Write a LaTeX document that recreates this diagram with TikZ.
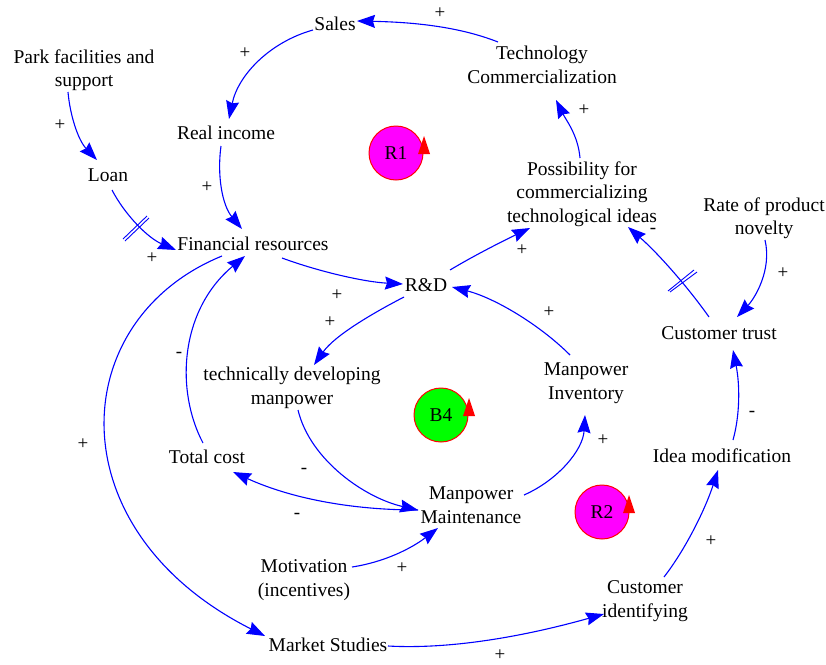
\documentclass[tikz,border=0pt]{standalone}
\usepackage{fontspec}
\setmainfont{Liberation Serif}
\usetikzlibrary{arrows.meta}
\definecolor{loopmag}{RGB}{255,0,255}
\tikzset{
  var/.style={inner sep=0pt,align=center,font=\fontsize{19.5}{23.5}\selectfont},
  sign/.style={inner sep=0pt,font=\fontsize{19}{20}\selectfont},
  link/.style={draw=blue,line width=1.1pt,-{Stealth[length=18pt,width=13pt,inset=2pt,fill=blue]}},
  delay/.style={draw=blue,line width=0.9pt},
  loopc/.style={circle,draw=red,line width=1pt,minimum size=54pt,inner sep=0pt,font=\fontsize{19.5}{20}\selectfont},
  looph/.style={fill=red,draw=none}
}
\newcommand{\at}[3]{([shift={(#2,#3)}]#1.center)}
\begin{document}
\begin{tikzpicture}[x=1pt,y=-1pt]
\useasboundingbox (0,0) rectangle (826,664);
% variables
\node[var] (sales) at (335,24) {Sales};
\node[var] (tech) at (542,65) {Technology\\Commercialization};
\node[var] (park) at (84,70) {Park facilities and\\support};
\node[var] (real) at (226,133) {Real income};
\node[var] (loan) at (108,175) {Loan};
\node[var] (fin) at (253,244) {Financial resources};
\node[var] (poss) at (582,194) {Possibility for\\commercializing\\technological ideas};
\node[var] (rate) at (764,218) {Rate of product\\novelty};
\node[var] (rd) at (426,285) {R\&D};
\node[var] (trust) at (719,333) {Customer trust};
\node[var] (dev) at (292,388) {technically developing\\manpower};
\node[var] (inv) at (586,383) {Manpower\\Inventory};
\node[var] (total) at (207,457) {Total cost};
\node[var] (idea) at (722,456) {Idea modification};
\node[var] (maint) at (471,505) {Manpower\\Maintenance};
\node[var] (motiv) at (304,580) {Motivation\\(incentives)};
\node[var] (cid) at (645,601) {Customer\\identifying};
\node[var] (market) at (328,645) {Market Studies};
% connectors
\draw[link] \at{tech}{-44}{-23} .. controls (455,25) and (405,22) .. \at{sales}{22}{-3};
\draw[link] \at{sales}{-22}{6} .. controls (270,42) and (238,75) .. \at{real}{3}{-14};
\draw[link] \at{real}{-5}{13} .. controls (217,175) and (222,205) .. \at{fin}{-11}{-15};
\draw[link] \at{park}{-16}{22} .. controls (70,115) and (78,140) .. \at{loan}{-11}{-15};
\draw[link] \at{loan}{4}{15} .. controls (125,215) and (148,238) .. \at{fin}{-77}{6};
\draw[link] \at{fin}{29}{14} .. controls (320,272) and (365,282) .. \at{rd}{-23}{-1};
\draw[link] \at{rd}{24}{-15} .. controls (475,255) and (505,240) .. \at{poss}{-52}{34};
\draw[link] \at{poss}{-2}{-36} .. controls (578,135) and (566,120) .. \at{tech}{14}{35};
\draw[link] \at{trust}{-10}{-16} .. controls (690,290) and (660,255) .. \at{poss}{46}{33};
\draw[link] \at{rate}{1}{22} .. controls (772,270) and (755,298) .. \at{trust}{18}{-16};
\draw[link] \at{idea}{11}{-16} .. controls (740,415) and (740,385) .. \at{trust}{14}{17};
\draw[link] \at{cid}{19}{-24} .. controls (685,550) and (705,510) .. \at{idea}{-4}{14};
\draw[link] \at{market}{60}{1} .. controls (460,650) and (540,632) .. \at{cid}{-41}{13};
\draw[link] \at{fin}{-31}{12} .. controls (65,320) and (55,530) .. \at{market}{-63}{-9};
\draw[link] \at{total}{-4}{-14} .. controls (175,390) and (180,310) .. \at{fin}{-8}{12};
\draw[link] \at{rd}{-22}{12} .. controls (375,312) and (335,335) .. \at{dev}{22}{-23};
\draw[link] \at{dev}{6}{22} .. controls (310,460) and (365,498) .. \at{maint}{-53}{5};
\draw[link] \at{maint}{-53}{5} .. controls (350,510) and (290,498) .. \at{total}{26}{15};
\draw[link] \at{motiv}{48}{-13} .. controls (385,562) and (412,548) .. \at{maint}{-33}{23};
\draw[link] \at{maint}{53}{-10} .. controls (558,480) and (583,450) .. \at{inv}{-1}{32};
\draw[link] \at{inv}{-16}{-28} .. controls (540,325) and (495,298) .. \at{rd}{26}{2};
% delay marks
\draw[delay] (123,239) -- (147,216) (125,241) -- (149,218);
\draw[delay] (668,291) -- (694,270) (670,292) -- (697,272);
% signs
\foreach \n/\x/\y/\s in {a/440/13/+,b/245/53/+,c/584/110/+,d/60/125/+,e/207/187/+,f/152/258/+,g/522/250/+,h/653/231/-,i/783/273/+,j/337/295/+,k/330/322/+,l/549/312/+,m/179/355/-,n/83/444/+,o/752/414/-,q/603/440/+,r/304/471/-,s/297/516/-,t/711/541/+,u/402/568/+,v/500/655/+}
  \node[sign] (sg\n) at (\x,\y) {\s};
% loop symbols
\node[loopc,fill=loopmag] (r1) at (396,153) {R1};
\fill[looph] (424,136) -- (418,154) -- (430,154) -- cycle;
\node[loopc,fill=green] (b4) at (441,415) {B4};
\fill[looph] (469,398) -- (463,416) -- (475,416) -- cycle;
\node[loopc,fill=loopmag] (r2) at (602,512) {R2};
\fill[looph] (629,495) -- (623,513) -- (635,513) -- cycle;
\end{tikzpicture}
\end{document}
